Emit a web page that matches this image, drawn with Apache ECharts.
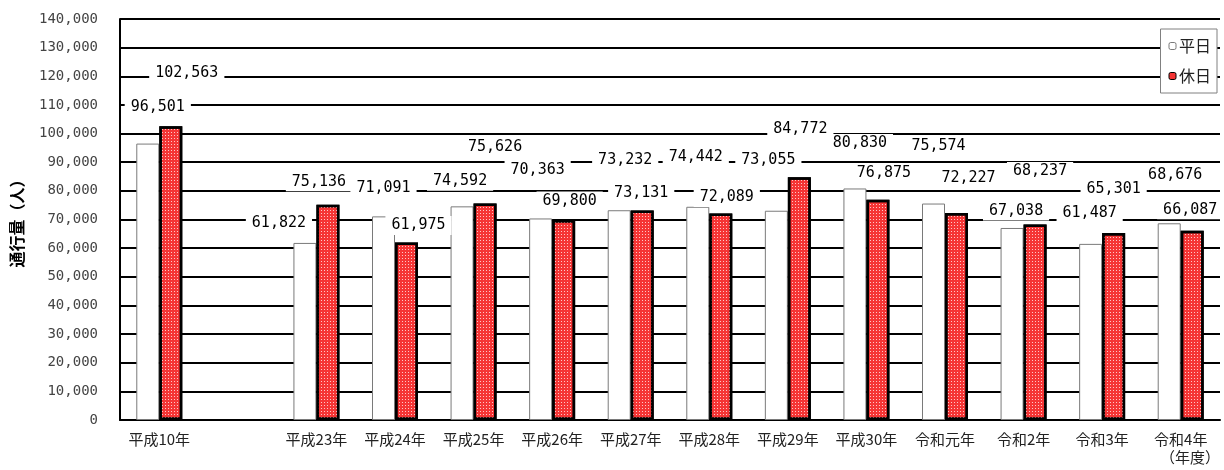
<!DOCTYPE html>
<html>
<head>
<meta charset="utf-8">
<script src="https://cdn.jsdelivr.net/npm/echarts@6/dist/echarts.min.js"></script>
<style>
  html, body { margin: 0; padding: 0; background: #fff; }
  #main { width: 1224px; height: 470px; }
</style>
</head>
<body>
<div id="main"></div>
<script>
// 年度（平成10年と平成23年の間は空き）
const years = ['平成10年', '', '平成23年', '平成24年', '平成25年', '平成26年', '平成27年',
  '平成28年', '平成29年', '平成30年', '令和元年', '令和2年', '令和3年', '令和4年']
const weekday = [96501, null, 61822, 71091, 74592, 70363, 73232, 74442, 73055, 80830, 75574, 67038, 61487, 68676]
const holiday = [102563, null, 75136, 61975, 75626, 69800, 73131, 72089, 84772, 76875, 72227, 68237, 65301, 66087]
const yTicks = [0, 10000, 20000, 30000, 40000, 50000, 60000, 70000, 80000, 90000, 100000, 110000, 120000, 130000, 140000]

// ラベルのずらし量（Excel で手動配置されていたもの）
const weekdayLabelShift = [[10, -36], null, [-26, -20], [0, -28], [-2, -25], [-3, -48], [6, -50],
  [-2, -50], [-8, -51], [5, -45], [5, -57], [4, -17], [-1, -31], [6, -48]]
const holidayLabelShift = [[16, -53], null, [-9, -23], [12, -17], [10, -56], [6, -19], [-1, -17],
  [6, -16], [1, -48], [6, -27], [12, -35], [5, -53], [0, -44], [-2, -21]]

const fmt = v => String(v).replace(/\B(?=(\d{3})+(?!\d))/g, ',')

function withLabels (values, shifts) {
  return values.map((v, i) => v == null ? null : {
    value: v,
    label: { offset: shifts[i] || [0, 0] }
  })
}

const labelStyle = {
  show: true,
  position: 'top',
  distance: 0,
  align: 'center',
  verticalAlign: 'middle',
  color: '#000',
  fontFamily: 'DejaVu Sans Mono',
  fontSize: 15,
  backgroundColor: '#fff',
  padding: [2, 6],
  formatter: p => fmt(p.value)
}

const chart = echarts.init(document.getElementById('main'))
const option = {
  animation: false,
  textStyle: { fontFamily: '"Noto Sans CJK JP", sans-serif' },
  grid: { left: 120, right: 4, top: 19, bottom: 50 },
  legend: {
    data: ['平日', '休日'],
    orient: 'vertical',
    right: 7,
    top: 29,
    itemWidth: 7,
    itemHeight: 7,
    itemGap: 14,
    itemStyle: { borderWidth: 1, decal: 'none' },
    padding: [9, 6, 9, 8],
    backgroundColor: '#fff',
    borderColor: '#808080',
    borderWidth: 1,
    textStyle: { fontSize: 16, color: '#222', padding: [0, 0, 0, -2] }
  },
  xAxis: {
    type: 'category',
    data: years,
    axisLine: { lineStyle: { color: '#000', width: 2 } },
    axisTick: { inside: true, length: 5, lineStyle: { color: '#000', width: 1.5 } },
    axisLabel: { interval: 0, color: '#222', fontSize: 15, margin: 12 }
  },
  yAxis: {
    type: 'value',
    min: yTicks[0],
    max: yTicks[yTicks.length - 1],
    interval: yTicks[1] - yTicks[0],
    name: '通行量（人）',
    nameLocation: 'middle',
    nameRotate: 90,
    nameGap: 95,
    nameTextStyle: { fontSize: 16, fontWeight: 'bold', color: '#000' },
    axisLine: { show: true, lineStyle: { color: '#000', width: 2 } },
    axisTick: { show: false },
    axisLabel: {
      color: '#444',
      fontFamily: 'DejaVu Sans Mono',
      fontSize: 14,
      margin: 22,
      formatter: v => fmt(v)
    },
    splitLine: { lineStyle: { color: '#000', width: 2 } }
  },
  series: [
    {
      name: '平日',
      type: 'bar',
      barWidth: 23,
      barGap: '0%',
      data: withLabels(weekday, weekdayLabelShift),
      itemStyle: { color: '#fff', borderColor: '#7a7a7a', borderWidth: 1 },
      label: labelStyle
    },
    {
      name: '休日',
      type: 'bar',
      barWidth: 23,
      data: withLabels(holiday, holidayLabelShift),
      itemStyle: {
        color: '#f53535',
        borderColor: '#000',
        borderWidth: 2.5,
        // 網掛け（白い点）
        decal: {
          symbol: 'rect',
          symbolSize: 1,
          color: 'rgba(255,215,215,0.9)',
          dashArrayX: [1, 2],
          dashArrayY: [1, 2],
          rotation: 0
        }
      },
      label: labelStyle
    }
  ],
  graphic: [{
    type: 'text',
    right: 4,
    top: 450,
    style: { text: '（年度）', fontSize: 15, fill: '#222', fontFamily: '"Noto Sans CJK JP", sans-serif' }
  }]
}
chart.setOption(option)
</script>
</body>
</html>
